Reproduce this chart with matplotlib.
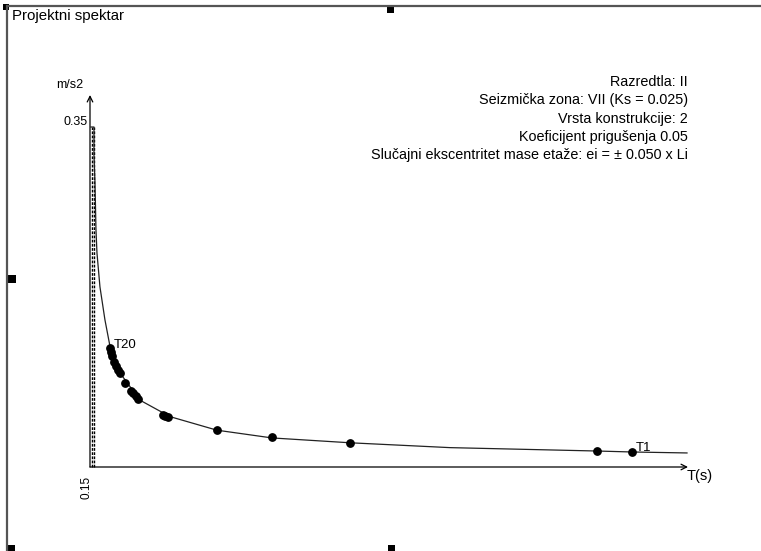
import matplotlib
matplotlib.use("Agg")
import matplotlib.pyplot as plt
from matplotlib.patches import Rectangle
from matplotlib.lines import Line2D

# Spectrum curve (T in s, Sa in m/s2)
curve_T = [0.005, 0.020, 0.020, 0.025, 0.030, 0.035, 0.050, 0.075, 0.101, 0.151,
           0.251, 0.402, 0.638, 0.915, 1.307, 1.809, 2.548, 2.724, 3.000]
curve_Sa = [0.351, 0.351, 0.322, 0.294, 0.245, 0.221, 0.186, 0.152, 0.124, 0.097,
            0.069, 0.052, 0.038, 0.030, 0.025, 0.020, 0.0165, 0.0155, 0.0145]

# Mode periods T1..T20 and their spectral values
mode_T = [2.724, 2.548, 1.307, 0.915, 0.638, 0.392, 0.377, 0.367, 0.241, 0.231,
          0.216, 0.206, 0.176, 0.151, 0.141, 0.131, 0.121, 0.111, 0.106, 0.101]
mode_Sa = [0.0155, 0.0165, 0.0248, 0.0305, 0.0382, 0.0516, 0.0527, 0.0537, 0.0702, 0.0728,
           0.0764, 0.0785, 0.0867, 0.0970, 0.1001, 0.1043, 0.1084, 0.1146, 0.1187, 0.1229]

# dashed lines in the plateau
plateau_T = [0.010, 0.0176]
sa_max = 0.351

info_lines = [
    "Razredtla: II",
    "Seizmička zona: VII (Ks = 0.025)",
    "Vrsta konstrukcije: 2",
    "Koeficijent prigušenja 0.05",
    "Slučajni ekscentritet mase etaže: ei = ± 0.050 x Li",
]

W, H = 761, 551
X0, Y0 = 90, 467          # pixel position of the origin
PX_S, PX_A = 199.0, 968.6  # pixels per second / per m/s2

plt.rcParams['font.family'] = ['Liberation Sans', 'DejaVu Sans']

fig = plt.figure(figsize=(W / 100, H / 100), dpi=100)
fig.patch.set_facecolor('white')
ax = fig.add_axes([0, 0, 1, 1])
ax.set_xlim(-X0 / PX_S, (W - X0) / PX_S)
ax.set_ylim((Y0 - H) / PX_A, Y0 / PX_A)
ax.axis('off')


def fx(px):
    return px / W


def fy(py):
    return 1 - py / H


# window frame and selection handles
fig.add_artist(Line2D([fx(8), fx(761)], [fy(6), fy(6)], color='#555555', lw=1.6))
fig.add_artist(Line2D([fx(7), fx(7)], [fy(6), fy(551)], color='#555555', lw=1.6))
for (hx, hy, hw, hh) in [(3, 4, 6, 6), (387, 6, 7, 7), (8, 275, 8, 8),
                         (8, 545, 7, 6), (388, 545, 7, 6)]:
    fig.add_artist(Rectangle((fx(hx), fy(hy + hh)), hw / W, hh / H,
                             facecolor='black', edgecolor='none'))

fig.text(fx(12), fy(16), "Projektni spektar", fontsize=10.8, ha='left', va='center')

# axes with arrows
ax.annotate("", xy=(0, (Y0 - 95) / PX_A), xytext=(0, 0),
            arrowprops=dict(arrowstyle='->', lw=0.9, color='black',
                            shrinkA=0, shrinkB=0, mutation_scale=10))
ax.annotate("", xy=((688 - X0) / PX_S, 0), xytext=(0, 0),
            arrowprops=dict(arrowstyle='->', lw=0.9, color='black',
                            shrinkA=0, shrinkB=0, mutation_scale=10))

for t in plateau_T:
    ax.plot([t, t], [0, sa_max], color='black', lw=1.0, ls=(0, (2, 1)))

ax.plot(curve_T, curve_Sa, color='#222222', lw=0.9)
ax.plot(mode_T, mode_Sa, 'o', color='black', ms=5.3)

ax.text(-20 / PX_S, (Y0 - 85) / PX_A, "m/s2", fontsize=9, ha='center', va='center')
ax.text(-2 / PX_S, (Y0 - 122) / PX_A, "0.35", fontsize=9, ha='right', va='center')
ax.text(-3 / PX_S, (Y0 - 487) / PX_A, "0.15", fontsize=8.5, ha='center', va='center',
        rotation=90)
ax.text((114 - X0) / PX_S, (Y0 - 345) / PX_A, "T20", fontsize=9.5, ha='left', va='center')
ax.text((636 - X0) / PX_S, (Y0 - 448) / PX_A, "T1", fontsize=9.5, ha='left', va='center')
ax.text((687 - X0) / PX_S, (Y0 - 476) / PX_A, "T(s)", fontsize=10.5, ha='left', va='center')

for i, line in enumerate(info_lines):
    ax.text((688 - X0) / PX_S, (Y0 - (82 + 18.3 * i)) / PX_A, line,
            fontsize=10.4, ha='right', va='center')

fig.savefig("out.png", dpi=100, facecolor='white')
